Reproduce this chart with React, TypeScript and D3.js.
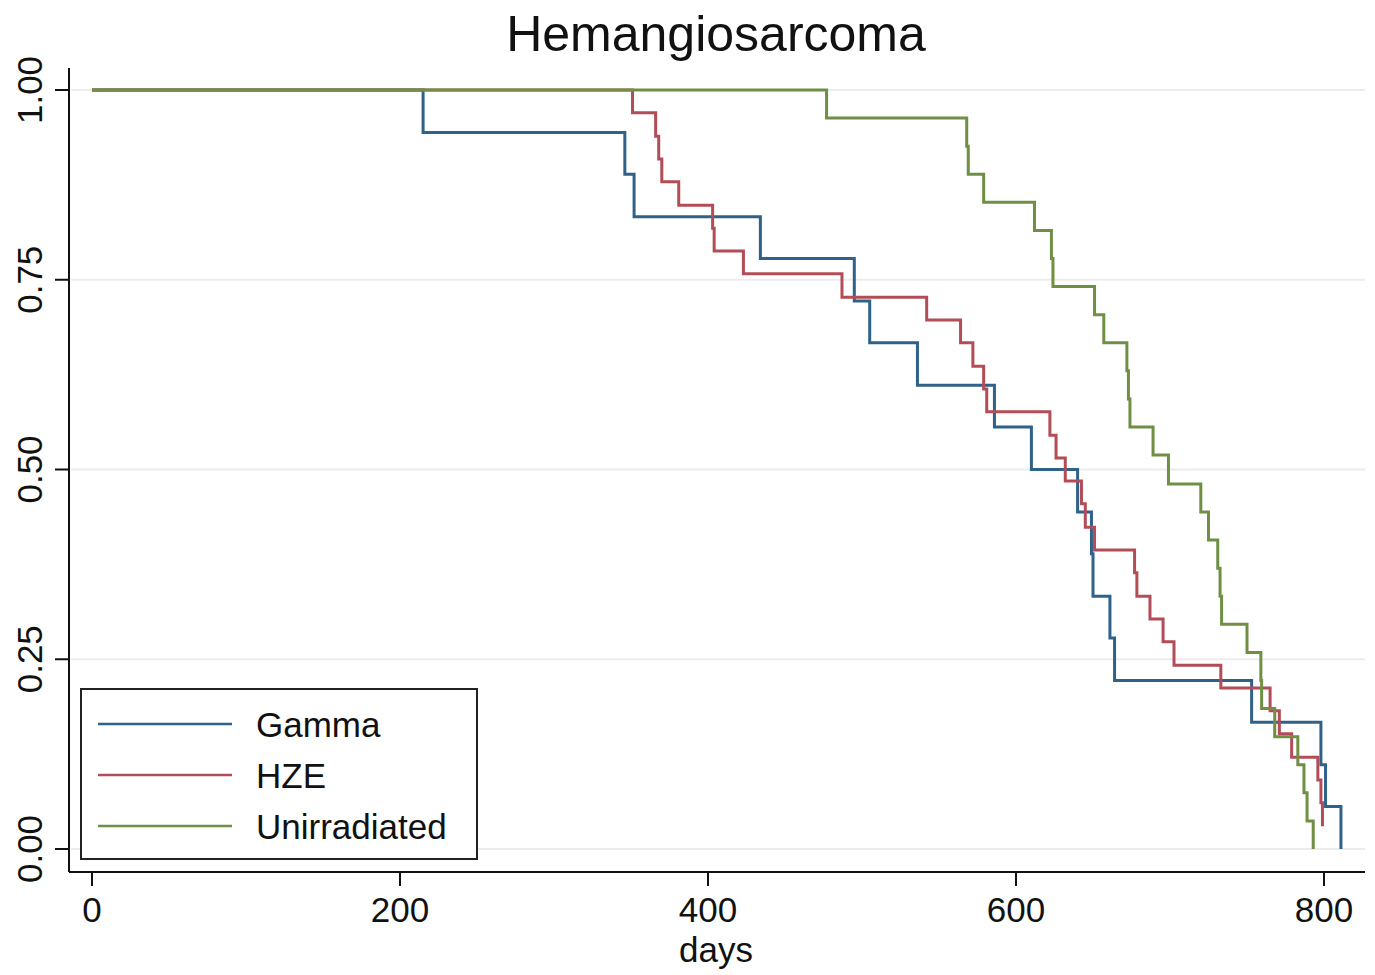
import React from "react";
import * as d3 from "d3";

const title = "Hemangiosarcoma";
const xLabel = "days";
const xTicks = [0, 200, 400, 600, 800];
const yTicks = [0, 0.25, 0.5, 0.75, 1];
const seriesNames = ["Gamma", "HZE", "Unirradiated"];
const seriesColors = ["#2f6189", "#b24d58", "#6f8f45"];

// Kaplan-Meier steps: [day, survival]
const gammaSteps: [number, number][] = [
  [0, 1], [215, 0.944], [346, 0.889], [352, 0.833], [434, 0.778], [495, 0.722],
  [505, 0.667], [536, 0.611], [586, 0.556], [610, 0.5], [640, 0.444], [649, 0.389],
  [650, 0.333], [661, 0.278], [664, 0.222], [753, 0.167], [798, 0.111], [801, 0.056],
  [811, 0],
];
const hzeSteps: [number, number][] = [
  [0, 1], [351, 0.97], [366, 0.939], [368, 0.909], [370, 0.879], [381, 0.848],
  [403, 0.818], [404, 0.788], [423, 0.758], [487, 0.727], [542, 0.697], [564, 0.667],
  [572, 0.636], [579, 0.606], [581, 0.576], [622, 0.545], [626, 0.515], [632, 0.485],
  [642.5, 0.455], [645, 0.424], [651, 0.394], [677, 0.364], [678.5, 0.333], [687, 0.303],
  [695.5, 0.273], [702.6, 0.242], [733, 0.212], [765, 0.182], [771, 0.152], [779, 0.121],
  [796, 0.091], [798, 0.061], [799, 0.03],
];
const unirrSteps: [number, number][] = [
  [0, 1], [477, 0.963], [568, 0.926], [569, 0.889], [579, 0.852], [612, 0.815],
  [623, 0.778], [624, 0.741], [651, 0.704], [657, 0.667], [672, 0.63], [673, 0.593],
  [674, 0.556], [689, 0.519], [699, 0.481], [720, 0.444], [725, 0.407], [731, 0.37],
  [732.5, 0.333], [733.5, 0.296], [750, 0.259], [759, 0.222], [759.5, 0.185], [768, 0.148],
  [783, 0.111], [787, 0.074], [789, 0.037], [793, 0],
];
const allSteps = [gammaSteps, hzeSteps, unirrSteps];

const W = 1375;
const H = 975;
const FONT = "'Liberation Sans', Arial, Helvetica, sans-serif";

export default function App() {
  const x = d3.scaleLinear().domain([0, 800]).range([92, 1324]);
  const y = d3.scaleLinear().domain([0, 1]).range([849, 90]);
  const axisLeft = 69;
  const axisBottom = 872;
  const plotRight = 1365;
  const plotTop = 68;

  const line = d3
    .line<[number, number]>()
    .x((d) => x(d[0]))
    .y((d) => y(d[1]))
    .curve(d3.curveStepAfter);

  const legendX = 81;
  const legendY = 689;
  const legendW = 396;
  const legendH = 170;
  const legendRowY = [724, 775, 826];

  return (
    <svg
      width={W}
      height={H}
      style={{ position: "absolute", left: 0, top: 0, background: "#fff" }}
      fontFamily={FONT}
    >
      <rect x={0} y={0} width={W} height={H} fill="#fff" />
      {/* grid */}
      {yTicks.map((t) => (
        <line
          key={"g" + t}
          x1={axisLeft + 2}
          x2={plotRight}
          y1={y(t)}
          y2={y(t)}
          stroke="#ececec"
          strokeWidth={2}
        />
      ))}
      {/* curves */}
      {allSteps.map((s, i) => (
        <path
          key={"c" + i}
          d={line(s) || ""}
          fill="none"
          stroke={seriesColors[i]}
          strokeWidth={3}
        />
      ))}
      {/* axes */}
      <line x1={axisLeft} x2={axisLeft} y1={plotTop} y2={axisBottom} stroke="#111" strokeWidth={2} />
      <line x1={axisLeft} x2={plotRight} y1={axisBottom} y2={axisBottom} stroke="#111" strokeWidth={2} />
      {yTicks.map((t) => (
        <g key={"yt" + t}>
          <line x1={axisLeft - 14} x2={axisLeft} y1={y(t)} y2={y(t)} stroke="#111" strokeWidth={2} />
          <text
            transform={`translate(42,${y(t)}) rotate(-90)`}
            textAnchor="middle"
            fontSize={35}
            fill="#111"
          >
            {t.toFixed(2)}
          </text>
        </g>
      ))}
      {xTicks.map((t) => (
        <g key={"xt" + t}>
          <line x1={x(t)} x2={x(t)} y1={axisBottom} y2={axisBottom + 14} stroke="#111" strokeWidth={2} />
          <text x={x(t)} y={922} textAnchor="middle" fontSize={35} fill="#111">
            {t}
          </text>
        </g>
      ))}
      <text x={716} y={962} textAnchor="middle" fontSize={35} fill="#111">
        {xLabel}
      </text>
      <text x={716} y={51} textAnchor="middle" fontSize={50} fill="#111">
        {title}
      </text>
      {/* legend */}
      <rect
        x={legendX}
        y={legendY}
        width={legendW}
        height={legendH}
        fill="#fff"
        stroke="#222"
        strokeWidth={2}
      />
      {seriesNames.map((n, i) => (
        <g key={"l" + n}>
          <line
            x1={98}
            x2={232}
            y1={legendRowY[i]}
            y2={legendRowY[i]}
            stroke={seriesColors[i]}
            strokeWidth={2.5}
          />
          <text x={256} y={legendRowY[i] + 13} fontSize={35} fill="#111">
            {n}
          </text>
        </g>
      ))}
    </svg>
  );
}
